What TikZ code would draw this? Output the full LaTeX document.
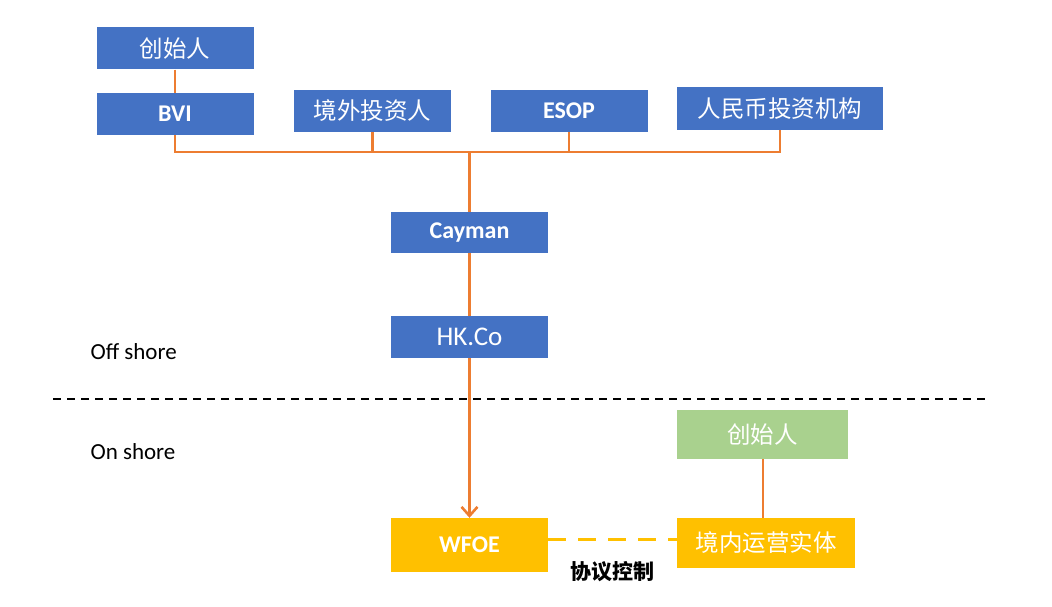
\documentclass[tikz,border=0pt]{standalone}
\usepackage{fontspec}
\setmainfont{Carlito}
\newfontfamily\cjk{Noto Sans CJK SC}
\usetikzlibrary{arrows.meta,calc}
\definecolor{boxblue}{HTML}{4472C4}
\definecolor{linkorange}{HTML}{ED7D31}
\definecolor{boxgold}{HTML}{FFC000}
\definecolor{boxgreen}{HTML}{A9D18E}

\begin{document}
\begin{tikzpicture}[x=1pt,y=-1pt,
    box/.style={fill=boxblue, text=white, inner sep=0pt, minimum width=157pt, minimum height=42pt, font=\fontsize{24}{26}\selectfont},
    cn/.style={font=\cjk\fontsize{23.5}{26}\selectfont},
    en/.style={font=\bfseries\fontsize{24}{26}\selectfont},
    link/.style={draw=linkorange, line width=2.8pt}]
    \useasboundingbox (0,0) rectangle (1052,607);

    %offshore holders
        \node[box, cn] (founder) at (175,48.5) {创始人};
        \node[box, en] (bvi) at (175,114) {BVI};
        \node[box, cn] (offinv) at (372.5,111) {境外投资人};
        \node[box, en] (esop) at (569,111) {ESOP};
        \node[box, cn, minimum width=206pt, minimum height=43pt] (rmb) at (780,108.5) {人民币投资机构};
        \coordinate[] (J) at (469.5,152);

    %offshore companies
        \node[box, en, minimum height=41pt] (cayman) at (469.5,232.5) {Cayman};
        \node[box, font=\fontsize{27}{29}\selectfont] (hk) at (469.5,337) {HK.Co};

    %onshore entities
        \node[box, en, fill=boxgold, minimum height=54pt] (wfoe) at (469.5,545) {WFOE};
        \node[box, cn, fill=boxgreen, minimum width=171pt, minimum height=49pt] (founder2) at (762.5,434.5) {创始人};
        \node[box, cn, fill=boxgold, minimum width=178pt, minimum height=50pt] (domestic) at (766,543) {境内运营实体};

    %shore labels and border
        \node[anchor=west, font=\fontsize{23}{26}\selectfont] (offlbl) at (87,352) {Off shore};
        \node[anchor=west, font=\fontsize{23}{26}\selectfont] (onlbl) at (87,452) {On shore};
        \coordinate[] (L) at (53,399);
        \coordinate[] (R) at (988,399);
        \draw[line width=1.6pt, dash pattern=on 8pt off 6pt] (L) -- (R);

    %links
        \draw[link] (founder) -- (bvi);
        \draw[link] (bvi.south) |- (J);
        \draw[link] (offinv.south) |- (J);
        \draw[link] (esop.south) |- (J);
        \draw[link] (rmb.south) |- (J);
        \draw[link] (J) -- (cayman.north);
        \draw[link] (cayman) -- (hk);
        \draw[link, -{Straight Barb[length=9pt,width=16pt,line width=2.6pt]}] (hk.south) -- (wfoe.north);
        \draw[link] (founder2.south -| 763,0) -- (domestic.north -| 763,0);
        \draw[draw=boxgold, line width=3pt, dash pattern=on 18pt off 12pt] ([yshift=6pt]wfoe.east) -- ([yshift=6pt]wfoe.east -| domestic.west)
            node[midway, below=18pt, text=black, font=\cjk\bfseries\fontsize{21}{24}\selectfont] (ctrl) {协议控制};

    \end{tikzpicture}
\end{document}
